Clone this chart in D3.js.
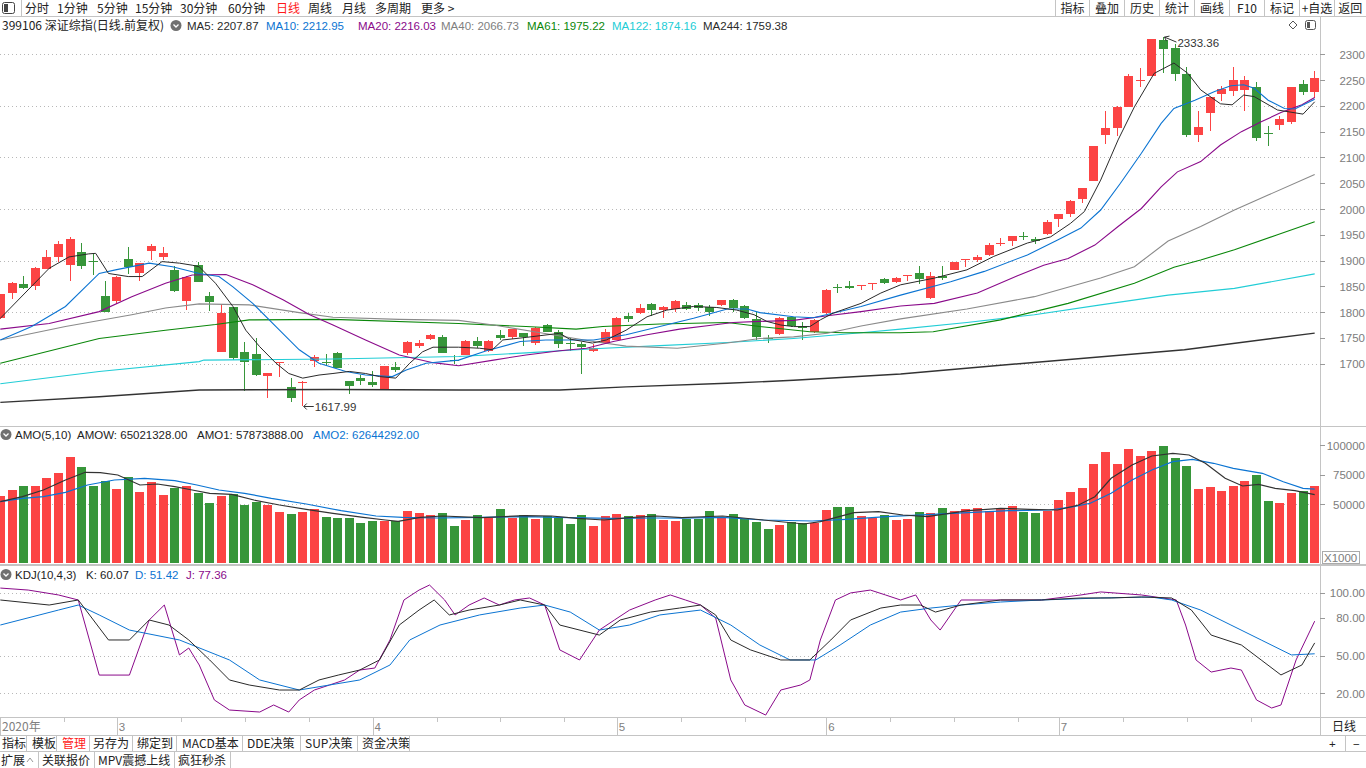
<!DOCTYPE html>
<html>
<head>
<meta charset="utf-8">
<title>399106 深证综指</title>
<script src="https://cdn.jsdelivr.net/npm/d3@7/dist/d3.min.js"></script>
<style>
  html, body { margin: 0; padding: 0; background: #fff; overflow: hidden; }
  svg { display: block; }
  text { font-family: "Liberation Sans", "Noto Sans CJK SC", sans-serif; font-size: 11.5px; }
  .cjk { font-family: "Noto Sans CJK SC", "Liberation Sans", sans-serif; font-size: 12px; }
</style>
</head>
<body>
<svg id="chart" width="1366" height="768"></svg>
<script>
// ---- values (daily candles, 2020-02-17 .. 2020-07-31) ----
const opens = [1788,1838,1855,1851,1884,1906,1892,1917,1899,1831, 1822,1903,1876,1919,1906,1882,1822,1891,1831,1723,
  1809,1723,1719,1677,1702,1655,1664,1705,1703,1721, 1666,1673,1665,1650,1693,1720,1735,1747,1752,1708,
  1717,1744,1725,1756,1752,1759,1740,1776,1761,1740, 1738,1725,1740,1746,1792,1798,1816,1804,1806,1813,
  1813,1809,1814,1824,1812,1787,1750,1758,1791,1773, 1762,1798,1849,1851,1852,1855,1864,1858,1871,1876,
  1827,1870,1882,1901,1901,1910,1934,1938,1947,1942, 1951,1981,1990,2020,2055,2143,2158,2198,2249,2258,
  2328,2312,2262,2144,2187,2223,2229,2231,2236,2148, 2163,2169,2242,2226];
const highs = [1836,1858,1870,1887,1920,1938,1946,1934,1915,1860, 1870,1927,1896,1933,1927,1890,1870,1897,1839,1816,
  1810,1742,1749,1682,1704,1673,1666,1716,1719,1723, 1667,1678,1686,1696,1703,1744,1745,1758,1756,1716,
  1745,1752,1745,1765,1768,1760,1771,1777,1765,1749, 1742,1738,1767,1790,1798,1816,1817,1811,1824,1819,
  1818,1814,1824,1825,1814,1801,1756,1790,1792,1780, 1786,1844,1855,1860,1853,1857,1866,1869,1872,1890,
  1877,1890,1897,1904,1910,1934,1943,1948,1956,1946, 1979,1991,2017,2041,2123,2190,2199,2262,2273,2330,
  2333.36,2320,2276,2190,2218,2239,2276,2257,2247,2160, 2181,2237,2250,2268];
const lows = [1786,1825,1845,1843,1883,1898,1861,1884,1872,1800, 1816,1873,1861,1902,1901,1840,1804,1858,1803,1722,
  1707,1648,1677,1634,1675,1626,1617.99,1694,1695,1692, 1641,1659,1655,1650,1683,1716,1731,1746,1720,1699,
  1716,1731,1723,1746,1747,1735,1736,1761,1731,1725, 1680,1722,1739,1745,1781,1796,1793,1788,1801,1804,
  1803,1793,1812,1801,1787,1746,1741,1755,1772,1745, 1759,1797,1838,1845,1843,1843,1855,1856,1861,1855,
  1826,1862,1881,1888,1897,1909,1929,1929,1939,1932, 1950,1966,1985,2012,2054,2126,2142,2197,2237,2257,
  2263,2249,2140,2129,2151,2209,2220,2190,2131,2123, 2153,2164,2221,2215];
const closes = [1835,1857,1846,1886,1907,1932,1942,1890,1897,1801, 1869,1888,1895,1929,1915,1841,1869,1859,1820,1798,
  1712,1704,1678,1681,1703,1633,1665,1713,1702,1692, 1657,1666,1659,1696,1688,1743,1740,1755,1721,1707,
  1744,1735,1744,1750,1767,1752,1770,1762,1738,1739, 1733,1731,1761,1789,1787,1808,1804,1810,1822,1806,
  1808,1801,1824,1808,1789,1752,1749,1789,1773,1769, 1785,1843,1848,1847,1853,1856,1857,1866,1872,1864,
  1870,1866,1897,1903,1907,1930,1935,1947,1946,1938, 1975,1990,2016,2040,2122,2157,2198,2258,2250,2330,
  2310,2262,2143,2159,2217,2233,2251,2250,2138,2147, 2175,2236,2227,2255];
// turnover, in units of 1000 (axis shows X1000)
const volumes = [56780,61870,65260,65260,72040,76275,89835,81360,65260,69750,
  62715,72885,60170,68650,57630,63820,65260,59325,50850,56780,
  58220,49155,51700,49155,43220,41530,43220,45765,38985,38140,
  38140,33900,35595,35595,35340,44070,42375,40680,42375,31360,
  36440,40680,38140,45765,38140,40680,37290,39830,38140,33050,
  40680,31360,39830,41530,39830,40680,41530,36440,35595,37545,
  37545,44070,38420,41530,37290,34750,28815,32205,34750,33900,
  33900,44920,47460,47460,39830,38140,40680,36440,37290,43220,
  42375,46610,44070,45765,46610,44070,45765,48300,43220,42375,
  44070,53390,60170,63560,83900,94070,83900,96615,90680,94920,
  99160,88990,82200,62715,64410,61020,65260,69500,74580,52545,
  50850,59325,61020,65021];

// indicator lines, read as [candle index, value] points
const ma5 = [[0,1788],[4.2,1885],[5.9,1907],[7.6,1913],[8.2,1914],[9.3,1875],[11,1869],[12.2,1869],[13.9,1898],[15.4,1895],[16.5,1891],[17.1,1888],[18.5,1856],[20,1811],[21.1,1765],[22.3,1733],[23.7,1701],[24.8,1681],[26,1672],[27.4,1678],[28.6,1681],[30,1685],[31.4,1681],[32.6,1675],[34,1672],[35.2,1701],[36.3,1723],[37.2,1732],[39.4,1732],[41.2,1730],[42.3,1727],[43.2,1746],[45.2,1751],[48.1,1759],[48.9,1748],[50.9,1740],[52.1,1746],[53.8,1765],[55.6,1791],[57.3,1804],[59.6,1811],[61.6,1809],[63.3,1804],[64.8,1795],[65.9,1782],[67.1,1775],[68.2,1772],[69.6,1772],[70.5,1785],[71.6,1798],[74,1817],[75.7,1837],[77.4,1853],[80.3,1866],[83.1,1882],[85.4,1908],[88.3,1934],[90.3,1946],[92,1972],[93.2,1995],[94.6,2056],[96.1,2134],[97.5,2198],[99.2,2263],[100.9,2283],[102.1,2263],[103.2,2231],[104.9,2204],[105.9,2202],[106.9,2221],[107.8,2218],[109.8,2192],[112,2184],[113,2207.87]];
const ma10 = [[0,1746],[2.7,1772],[5.6,1811],[8.5,1875],[9.9,1882],[12.8,1895],[14.8,1888],[17.1,1875],[18.8,1869],[20,1849],[21.7,1817],[23.7,1772],[25.7,1727],[27.4,1701],[29.7,1685],[31.4,1678],[33.7,1675],[34.9,1688],[36.6,1701],[39.4,1707],[41.8,1725],[44.7,1743],[46.9,1746],[51,1746],[53.8,1756],[56.7,1772],[59.6,1788],[62.5,1806],[64.2,1806],[65.3,1799],[68.2,1791],[69.9,1789],[74,1811],[77.4,1833],[81.7,1859],[84.6,1879],[88.3,1911],[90.9,1940],[92.9,1963],[94.6,1998],[96.3,2050],[98.1,2108],[99.8,2166],[100.9,2195],[102.7,2211],[104.4,2228],[105.8,2239],[106.9,2241],[107.8,2234],[109,2211],[110.4,2195],[111.3,2194],[113,2212.95]];
const ma20 = [[0,1767],[4.2,1778],[8.5,1801],[11.3,1830],[14.2,1856],[16.5,1872],[19.4,1873],[21.7,1853],[24.3,1824],[26.6,1795],[28.6,1775],[31.4,1746],[34.3,1717],[37.2,1702],[39.4,1696],[42.4,1707],[45.2,1717],[48.1,1725],[50.4,1730],[52.7,1743],[55.6,1756],[58.4,1767],[61.3,1775],[63,1780],[65.3,1782],[68.2,1784],[71.1,1793],[74,1801],[77.4,1812],[80.3,1817],[84,1837],[87.4,1870],[89.7,1891],[91.8,1904],[94.1,1930],[96.1,1966],[98.1,2001],[99.8,2043],[101.2,2072],[103.2,2092],[104.9,2124],[106.7,2150],[108.4,2169],[110.1,2187],[111.9,2202],[113,2216.03]];
const ma40 = [[0,1746],[5.6,1772],[11.3,1795],[14.2,1808],[17.1,1816],[21.4,1814],[25.7,1799],[28.6,1790],[34.3,1786],[39.4,1784],[42.4,1775],[46.7,1759],[51,1743],[53.8,1734],[58.2,1730],[62.5,1740],[65.3,1749],[68.2,1752],[71.1,1759],[74,1773],[77.4,1787],[83.1,1806],[88.9,1830],[94.6,1866],[97.5,1888],[100.4,1938],[103.2,1966],[106.1,1998],[109,2027],[113,2066.73]];
const ma61 = [[0,1701],[8.5,1749],[14.2,1765],[18.5,1776],[21.4,1785],[28.6,1786],[39.4,1778],[45.2,1772],[49.5,1767],[51.8,1772],[56.7,1777],[62.5,1780],[65.3,1772],[69.6,1762],[72.5,1760],[77.4,1760],[80.2,1762],[86,1785],[91.8,1817],[97.5,1856],[100.9,1887],[103.2,1901],[106.1,1921],[109.8,1950],[113,1975.22]];
const ma122 = [[0,1661],[8.5,1685],[17.1,1704],[17.5,1707],[28.6,1709],[39.4,1714],[45.2,1721],[51,1729],[56.7,1735],[62.5,1741],[68.2,1749],[74,1760],[77.4,1767],[83.1,1780],[88.9,1795],[94.6,1814],[100.4,1833],[106.1,1846],[113,1874.16]];
const ma244 = [[0,1625],[8.5,1636],[17.1,1649],[28.6,1650],[39.4,1649],[48.1,1649],[53.8,1655],[62.5,1662],[68.2,1668],[77.4,1680],[86,1697],[101.8,1727],[113,1759.38]];
const amo1 = [[0,51950],[1.9,56190],[3.7,61870],[5.6,70340],[7.3,76870],[8.6,76530],[10.1,74580],[12,66100],[13.5,66950],[15,64670],[16.5,61870],[18,59070],[19.9,58220],[21.8,53390],[24,49155],[26.3,45510],[28.6,42120],[31.2,38730],[33.1,36440],[34.2,35340],[36.1,38730],[38,39830],[41.4,38390],[45.1,40115],[47.4,39830],[49.6,37880],[51.9,36440],[54.1,38390],[56.4,39830],[58.6,38390],[62.1,39830],[65.6,36440],[69.1,33050],[70.5,35000],[73.4,42630],[75.5,43480],[77.6,40680],[79.7,39240],[83.2,44320],[86,46360],[88.5,45510],[90.9,44920],[92.7,49155],[94.1,56190],[95.5,71780],[97.3,83050],[99,90680],[100.8,92970],[102.2,91530],[103.6,84500],[105.3,71780],[106.8,65260],[108.2,66700],[109.6,63310],[111.3,61280],[113,57874]];
const amo2 = [[0,51950],[1.9,54830],[3.7,56190],[5.6,59920],[7.5,66100],[9.8,70340],[12.4,71780],[15,69750],[16.9,66100],[18.8,61870],[21,59070],[23.3,54830],[26.3,50000],[29.3,44320],[32.3,39830],[34.6,38730],[37.6,38140],[41.4,38730],[45.1,39240],[48.9,38390],[52.6,37880],[56.4,38140],[58.6,38000],[62.1,38730],[65.6,36440],[69.8,35595],[72.7,37035],[76.2,39240],[79.7,40935],[83.2,42630],[86.7,44320],[90.2,44920],[92.3,47710],[93.7,50600],[95.5,59070],[97.3,70340],[99,78820],[100.8,85860],[102.5,87890],[104.3,84500],[106,80260],[108.5,76020],[110.3,68900],[112,63310],[113,62644]];
const kdjK = [[0,94.2],[4.2,90.2],[6.7,94.2],[8,78.3],[9.3,62.4],[11.1,62.4],[12.8,78.3],[14.5,74.3],[16.2,62.4],[18,46.5],[19.7,30.6],[21.4,26.6],[24,22.6],[25.7,22.6],[27.4,30.6],[29.1,34.6],[30.9,38.5],[32.6,46.5],[34.3,74.3],[36,86.2],[37.3,94.2],[38.6,82.3],[40.3,86.2],[42.9,90.2],[44.7,94.2],[46.8,90.2],[48.1,74.3],[51.5,66.3],[53.3,78.3],[55.9,84.6],[58.4,87.8],[60.2,90.2],[61.5,82.3],[62.8,62.4],[64.5,54.5],[67.1,46.5],[69.6,46.5],[71.4,62.4],[73.1,78.3],[75.7,87.8],[77.4,90.2],[79.1,90.2],[80.4,84.6],[82.6,90.2],[86,94.2],[89.5,94.2],[92.9,95.8],[95.5,95.8],[98.1,96.6],[100.7,95.8],[102.4,86.2],[104.1,66.3],[106.7,58.4],[108.4,46.5],[110.1,34.6],[111.9,42.5],[113,60.07]];
const kdjD = [[0,74.3],[5,86.2],[6.7,90.2],[8.5,82.3],[11.1,70.3],[15.4,62.4],[19.7,46.5],[22.3,30.6],[25.7,22.6],[28.3,26.6],[30.9,30.6],[33.5,42.5],[35.2,62.4],[37.8,74.3],[41.2,82.3],[44.7,87.8],[46.8,90.2],[49,84.6],[51.5,70.3],[54.1,74.3],[56.7,82.3],[60.2,86.2],[62.8,74.3],[65.3,58.4],[67.9,46.5],[70.1,46.5],[72.2,58.4],[74.8,74.3],[77.4,84.6],[80,87.8],[82.6,90.2],[86,92.6],[89.5,94.2],[94.6,95.8],[98.9,96.6],[100.7,94.2],[103.2,86.2],[105.8,74.3],[108.4,62.4],[111,50.5],[113,51.42]];
const kdjJ = [[0,103.7],[2.4,102.1],[5,98.2],[6.7,94.2],[8.5,34.5],[11.1,34.5],[12.8,78.3],[14.1,90.2],[15.4,50.5],[16.2,56],[17.1,42.5],[18.4,14.7],[19.7,6.7],[22.3,5.1],[23.5,10.7],[24.8,5.1],[25.7,14.7],[27,22.6],[28.3,26.6],[29.6,30.6],[30.9,38.5],[32.2,40.1],[33.5,62.4],[34.7,94.2],[36,102.1],[36.9,106.1],[38.2,94.2],[39.1,82.3],[40.3,90.2],[41.6,95.8],[42.9,90.2],[44.2,94.2],[45.5,95.8],[46.8,90.2],[48.1,54.5],[49.8,46.5],[51.5,70.3],[52.8,78.3],[54.1,86.2],[56.3,94.2],[57.6,98.2],[58.9,94.2],[60.2,90.2],[61.5,79.9],[62.8,30.6],[64,10.7],[65.8,2.7],[67.1,22.6],[68.8,26.6],[69.6,30.6],[70.5,62.4],[71.8,94.2],[73.1,99.8],[74.8,102.1],[76.1,98.2],[77.4,94.2],[78.7,98.2],[80,78.3],[80.8,70.3],[82.6,94.2],[86,94.2],[89.5,94.2],[92.9,98.2],[94.6,100.6],[98.1,98.2],[101.1,94.2],[101.9,74.3],[102.8,46.5],[104.1,36.9],[105.8,40.1],[106.7,38.5],[108,14.7],[109.3,8.3],[110.1,10.7],[111.4,46.5],[113,77.36]];

const monthStarts = [0, 10, 32, 53, 71, 91];
const monthLabels = ['2020年', '3', '4', '5', '6', '7'];
const priceTicks = d3.range(1700, 2301, 50);
const volTicks = [50000, 75000, 100000];
const kdjTicks = [20, 50, 80, 100];

const topTabs = ['分时', '1分钟', '5分钟', '15分钟', '30分钟', '60分钟', '日线', '周线', '月线', '多周期', '更多 >'];
const rightTabs = ['指标', '叠加', '历史', '统计', '画线', 'F10', '标记', '+自选', '返回'];
const bottomTabs1 = ['指标', '模板', '管理', '另存为', '绑定到', 'MACD基本', 'DDE决策', 'SUP决策', '资金决策'];
const bottomTabs2 = ['扩展', '关联报价', 'MPV震撼上线', '疯狂秒杀'];

// ---- drawing ----
const RED = '#fc4444', GREEN = '#37963a', BORDER = '#c4c4c4', AX = '#7c7c7c';
const BLUE = '#0b74d2', PURPLE = '#8a0a8a';
const n = closes.length;
const axisX = 1320;
const svg = d3.select('#chart');

const x = d3.scaleBand().domain(d3.range(n)).range([-4.1, 1319.1]).paddingInner(0.24).paddingOuter(0);
const xc = i => x(i) + x.bandwidth() / 2;
const xl = d3.scaleLinear().domain([0, n - 1]).range([xc(0), xc(n - 1)]);

const yP = d3.scaleLinear().domain([1700, 2300]).range([363.7, 54.3]);
const yV = d3.scaleLinear().domain([0, 100000]).range([563, 445]);
const yK = d3.scaleLinear().domain([20, 100]).range([693.3, 592.7]);

const defs = svg.append('defs');
[['clipMain', 17, 426], ['clipVol', 427, 564], ['clipKdj', 566, 717]].forEach(([id, t, b]) => {
  defs.append('clipPath').attr('id', id).append('rect')
    .attr('x', 0).attr('y', t).attr('width', axisX).attr('height', b - t);
});

svg.append('rect').attr('width', 1366).attr('height', 768).attr('fill', '#fff');

// grid lines
const grid = svg.append('g').attr('stroke', '#b8b8b8').attr('stroke-dasharray', '1,3');
grid.selectAll('.gp').data(priceTicks.filter(d => d % 100 === 0)).join('line')
  .attr('x1', 0).attr('x2', axisX).attr('y1', d => Math.round(yP(d)) + 0.5).attr('y2', d => Math.round(yP(d)) + 0.5);
grid.append('line').attr('x1', 0).attr('x2', axisX)
  .attr('y1', Math.round(yV(50000)) + 0.5).attr('y2', Math.round(yV(50000)) + 0.5);
grid.selectAll('.gk').data([100, 50, 20]).join('line')
  .attr('x1', 0).attr('x2', axisX).attr('y1', d => Math.round(yK(d)) + 0.5).attr('y2', d => Math.round(yK(d)) + 0.5);

// candles
const idx = d3.range(n);
const candles = svg.append('g').attr('clip-path', 'url(#clipMain)');
const col = i => closes[i] >= opens[i] ? RED : GREEN;
const bx = i => Math.round(x(i));
const bw = Math.round(x.bandwidth());
candles.selectAll('line.wick').data(idx).join('line').attr('class', 'wick')
  .attr('x1', i => bx(i) + Math.floor(bw / 2) + 0.5).attr('x2', i => bx(i) + Math.floor(bw / 2) + 0.5)
  .attr('y1', i => Math.round(yP(highs[i]))).attr('y2', i => Math.round(yP(lows[i])))
  .attr('stroke', col).attr('stroke-width', 1);
candles.selectAll('rect.body').data(idx).join('rect').attr('class', 'body')
  .attr('x', bx).attr('width', bw)
  .attr('y', i => Math.round(yP(Math.max(opens[i], closes[i]))))
  .attr('height', i => Math.max(1, Math.round(yP(Math.min(opens[i], closes[i]))) - Math.round(yP(Math.max(opens[i], closes[i])))))
  .attr('fill', col).attr('shape-rendering', 'crispEdges');

// moving averages
const priceLine = d3.line().x(d => xl(d[0])).y(d => yP(d[1]));
const maG = svg.append('g').attr('clip-path', 'url(#clipMain)').attr('fill', 'none');
[[ma244, '#333333', 1.4], [ma122, '#22cdd6', 1.1], [ma61, '#0a870a', 1.1], [ma40, '#8a8a8a', 1.1],
 [ma20, PURPLE, 1.1], [ma10, BLUE, 1.1], [ma5, '#2a2a2a', 1]].forEach(([d, c, w]) => {
  maG.append('path').datum(d).attr('d', priceLine).attr('stroke', c).attr('stroke-width', w);
});

// high / low markers
const iHi = d3.maxIndex(highs), iLo = d3.minIndex(lows);
const mk = svg.append('g').attr('fill', 'none').attr('stroke', '#333');
const hx = xc(iHi) + 1, hy = yP(highs[iHi]);
mk.append('path').attr('d', `M${hx},${hy} L${hx + 12},${hy + 5} M${hx},${hy} l5,-1 M${hx},${hy} l2,4`);
svg.append('text').attr('x', hx + 13).attr('y', hy + 10).attr('fill', '#333').text(d3.format('.2f')(highs[iHi]));
const lx = xc(iLo) + 1, ly = Math.round(yP(lows[iLo])) + 0.5;
mk.append('path').attr('d', `M${lx},${ly} L${lx + 10},${ly} M${lx},${ly} l3,-3 M${lx},${ly} l3,3`);
svg.append('text').attr('x', lx + 11).attr('y', ly + 4).attr('fill', '#333').text(d3.format('.2f')(lows[iLo]));

// volume bars
const volG = svg.append('g').attr('clip-path', 'url(#clipVol)');
volG.selectAll('rect').data(idx).join('rect')
  .attr('x', bx).attr('width', bw)
  .attr('y', i => Math.round(yV(volumes[i]))).attr('height', i => Math.round(yV(0)) - Math.round(yV(volumes[i])))
  .attr('fill', col).attr('shape-rendering', 'crispEdges');
const volLine = d3.line().x(d => xl(d[0])).y(d => yV(d[1]));
[[amo2, BLUE], [amo1, '#333']].forEach(([d, c]) => {
  volG.append('path').datum(d).attr('d', volLine).attr('fill', 'none').attr('stroke', c).attr('stroke-width', 1.2);
});

// KDJ
const kdjLine = d3.line().x(d => xl(d[0])).y(d => yK(d[1]));
const kG = svg.append('g').attr('clip-path', 'url(#clipKdj)').attr('fill', 'none');
[[kdjJ, PURPLE], [kdjD, BLUE], [kdjK, '#2a2a2a']].forEach(([d, c]) => {
  kG.append('path').datum(d).attr('d', kdjLine).attr('stroke', c).attr('stroke-width', 1);
});

// panel borders
const frame = svg.append('g').attr('stroke', BORDER).attr('shape-rendering', 'crispEdges');
frame.append('line').attr('x1', 0).attr('x2', 1366).attr('y1', 16.5).attr('y2', 16.5);
frame.append('line').attr('x1', 0).attr('x2', 1366).attr('y1', 426.5).attr('y2', 426.5);
frame.append('line').attr('x1', 0).attr('x2', 1366).attr('y1', 565).attr('y2', 565).attr('stroke-width', 2);
frame.append('line').attr('x1', 0).attr('x2', 1366).attr('y1', 717.5).attr('y2', 717.5);
frame.append('line').attr('x1', 0).attr('x2', 1366).attr('y1', 735.5).attr('y2', 735.5);
frame.append('line').attr('x1', 0).attr('x2', 1366).attr('y1', 751.5).attr('y2', 751.5);
frame.append('line').attr('x1', axisX + 0.5).attr('x2', axisX + 0.5).attr('y1', 17).attr('y2', 735);

// right axes
const axG = svg.append('g');
function rightAxis(scale, ticks, fmt) {
  axG.append('g').selectAll('line').data(ticks).join('line')
    .attr('x1', axisX).attr('x2', axisX + 5)
    .attr('y1', d => Math.round(scale(d)) + 0.5).attr('y2', d => Math.round(scale(d)) + 0.5)
    .attr('stroke', '#999');
  axG.append('g').selectAll('text').data(ticks).join('text')
    .attr('x', 1365).attr('y', d => scale(d) + 4.5).attr('text-anchor', 'end')
    .attr('fill', AX).text(fmt);
}
rightAxis(yP, priceTicks, d => d);
rightAxis(yV, volTicks, d => d);
rightAxis(yK, kdjTicks, d => d3.format('.2f')(d));
axG.append('rect').attr('x', 1322.5).attr('y', 551.5).attr('width', 37).attr('height', 12)
  .attr('fill', '#fff').attr('stroke', '#aaa');
axG.append('text').attr('x', 1324).attr('y', 561.5).attr('fill', AX).text('X1000');

// x axis (months)
const xa = svg.append('g');
xa.selectAll('line.m').data(monthStarts).join('line').attr('class', 'm')
  .attr('x1', i => Math.round(xc(i)) + 0.5).attr('x2', i => Math.round(xc(i)) + 0.5)
  .attr('y1', 718).attr('y2', 735).attr('stroke', BORDER);
const minor = [];
monthStarts.forEach((m, k) => {
  const end = k + 1 < monthStarts.length ? monthStarts[k + 1] : n;
  for (let t = m + 5.5; t < end - 3; t += 5.5) minor.push(t);
});
xa.selectAll('line.t').data(minor).join('line').attr('class', 't')
  .attr('x1', t => Math.round(xl(t)) + 0.5).attr('x2', t => Math.round(xl(t)) + 0.5)
  .attr('y1', 718).attr('y2', 722).attr('stroke', BORDER);
xa.selectAll('text').data(monthStarts).join('text')
  .attr('class', (d, k) => k === 0 ? 'cjk' : null)
  .attr('x', (i, k) => k === 0 ? 2 : xc(i) + 2).attr('y', 731)
  .attr('fill', '#808080').text((d, k) => monthLabels[k]);
svg.append('text').attr('class', 'cjk').attr('x', 1332).attr('y', 731).attr('fill', '#222').text('日线');

// legends
function icon(cx, cy) {
  svg.append('circle').attr('cx', cx).attr('cy', cy).attr('r', 5.5).attr('fill', '#707070');
  svg.append('path').attr('d', `M${cx - 2.5},${cy - 1} L${cx},${cy + 1.5} L${cx + 2.5},${cy - 1}`)
    .attr('fill', 'none').attr('stroke', '#fff').attr('stroke-width', 1.3);
}
svg.append('text').attr('class', 'cjk').attr('x', 2).attr('y', 30).attr('fill', '#222').text('399106 深证综指(日线.前复权)');
icon(176, 25.5);
[['MA5: 2207.87', '#2a2a2a', 187], ['MA10: 2212.95', BLUE, 266], ['MA20: 2216.03', PURPLE, 358],
 ['MA40: 2066.73', '#808080', 441], ['MA61: 1975.22', '#0a870a', 527], ['MA122: 1874.16', '#22cdd6', 612],
 ['MA244: 1759.38', '#2a2a2a', 703]].forEach(([t, c, px]) => {
  svg.append('text').attr('x', px).attr('y', 30).attr('fill', c).text(t);
});
svg.append('path').attr('d', 'M1293,21 l4,4 l-4,4 l-4,-4 z').attr('fill', 'none').attr('stroke', '#555');
svg.append('rect').attr('x', 1305.5).attr('y', 20.5).attr('width', 10).attr('height', 9).attr('rx', 2)
  .attr('fill', 'none').attr('stroke', '#555');
svg.append('rect').attr('x', 1307).attr('y', 22).attr('width', 3).attr('height', 6).attr('fill', '#555');

icon(6, 434.5);
[['AMO(5,10)', '#222', 15], ['AMOW: 65021328.00', '#222', 77], ['AMO1: 57873888.00', '#222', 197],
 ['AMO2: 62644292.00', BLUE, 313]].forEach(([t, c, px]) => {
  svg.append('text').attr('x', px).attr('y', 439).attr('fill', c).text(t);
});
icon(6, 574.5);
[['KDJ(10,4,3)', '#222', 15], ['K: 60.07', '#222', 86], ['D: 51.42', BLUE, 135], ['J: 77.36', PURPLE, 186]]
  .forEach(([t, c, px]) => {
    svg.append('text').attr('x', px).attr('y', 579).attr('fill', c).text(t);
  });

// top toolbar
svg.append('rect').attr('x', 2.5).attr('y', 2.5).attr('width', 12).attr('height', 11).attr('rx', 2)
  .attr('fill', 'none').attr('stroke', '#444');
svg.append('rect').attr('x', 4).attr('y', 4).attr('width', 4).attr('height', 8).attr('fill', '#444');
svg.append('line').attr('x1', 21.5).attr('x2', 21.5).attr('y1', 0).attr('y2', 16).attr('stroke', BORDER);
const tabX = [25, 57, 97, 135, 180, 228, 276, 308, 342, 375, 421];
topTabs.forEach((t, k) => {
  svg.append('text').attr('class', 'cjk').attr('x', tabX[k]).attr('y', 12.5)
    .attr('fill', t === '日线' ? '#ff1a1a' : '#222').text(t);
});
const rSep = [1055.5, 1089.5, 1124.5, 1159.5, 1194.5, 1229.5, 1264.5, 1299.5, 1334.5, 1366];
rSep.slice(0, -1).forEach(s => svg.append('line').attr('x1', s).attr('x2', s).attr('y1', 0).attr('y2', 16).attr('stroke', BORDER));
rightTabs.forEach((t, k) => {
  svg.append('text').attr('class', 'cjk').attr('x', (rSep[k] + rSep[k + 1]) / 2).attr('y', 12.5)
    .attr('text-anchor', 'middle').attr('fill', '#222').text(t);
});

// bottom toolbars
const b1x = [2, 32, 62, 93, 137, 182, 247, 305, 362], b1s = [26.5, 56.5, 89.5, 132.5, 176.5, 242.5, 300.5, 357.5, 409.5];
bottomTabs1.forEach((t, k) => {
  svg.append('text').attr('class', 'cjk').attr('x', b1x[k]).attr('y', 748)
    .attr('fill', t === '管理' ? '#ff1a1a' : '#222').text(t);
  svg.append('line').attr('x1', b1s[k]).attr('x2', b1s[k]).attr('y1', 736).attr('y2', 751).attr('stroke', BORDER);
});
const b2x = [1, 42, 98, 178], b2s = [38.5, 94.5, 174.5, 230.5];
bottomTabs2.forEach((t, k) => {
  svg.append('text').attr('class', 'cjk').attr('x', b2x[k]).attr('y', 764.5).attr('fill', '#222').text(t);
  svg.append('line').attr('x1', b2s[k]).attr('x2', b2s[k]).attr('y1', 752).attr('y2', 768).attr('stroke', BORDER);
});
svg.append('path').attr('d', 'M27,762 l3,-4 l3,4').attr('fill', 'none').attr('stroke', '#999');
svg.append('text').attr('x', 1329).attr('y', 748).attr('fill', '#222').text('+');
svg.append('line').attr('x1', 1345.5).attr('x2', 1345.5).attr('y1', 736).attr('y2', 751).attr('stroke', BORDER);
svg.append('text').attr('x', 1353).attr('y', 748).attr('fill', '#222').text('−');
</script>
</body>
</html>
